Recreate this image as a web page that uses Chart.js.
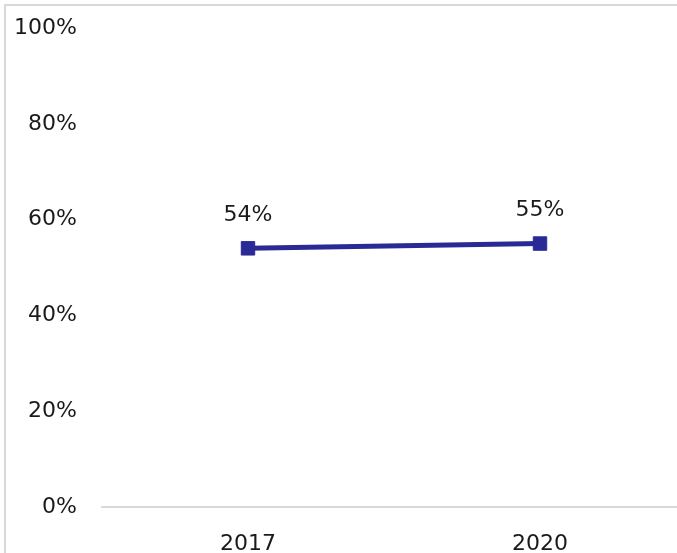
<!DOCTYPE html>
<html>
<head>
<meta charset="utf-8">
<script src="https://cdn.jsdelivr.net/npm/chart.js@4/dist/chart.umd.min.js"></script>
<style>
  html, body { margin: 0; padding: 0; background: #fff; overflow: hidden; }
  #wrap { position: absolute; left: 0; top: 0; width: 700px; height: 553px; }
  #frame { position: absolute; left: 4px; top: 4px; width: 900px; height: 900px; border-left: 2px solid #d9d9d9; border-top: 2px solid #d9d9d9; pointer-events: none; }
</style>
</head>
<body>
<div id="wrap"><canvas id="c" width="700" height="553"></canvas></div>
<div id="frame"></div>
<script>
const categories = ["2017", "2020"];
const values = [54, 55];
const yTicks = [0, 20, 40, 60, 80, 100];

const FONT = "'DejaVu Sans', sans-serif";
const lineColor = "#2a2a96";

const labelPlugin = {
  id: 'pointLabels',
  afterDatasetsDraw(chart) {
    const ctx = chart.ctx;
    const meta = chart.getDatasetMeta(0);
    ctx.save();
    ctx.font = "22px " + FONT;
    ctx.fillStyle = "#1a1a1a";
    ctx.textAlign = "center";
    ctx.textBaseline = "middle";
    meta.data.forEach((pt, i) => {
      ctx.fillText(values[i] + "%", pt.x, pt.y - 33);
    });
    ctx.restore();
  }
};

new Chart(document.getElementById('c'), {
  type: 'line',
  data: {
    labels: categories,
    datasets: [{
      data: values,
      borderColor: lineColor,
      backgroundColor: lineColor,
      borderWidth: 5,
      pointStyle: 'rect',
      pointRadius: 9.5,
      pointHoverRadius: 9.5,
      pointBorderWidth: 1,
      pointBorderColor: lineColor,
      pointBackgroundColor: lineColor,
      tension: 0,
      fill: false
    }]
  },
  options: {
    responsive: false,
    animation: false,
    devicePixelRatio: 1,
    layout: { padding: { top: 28, right: 14, bottom: 0, left: 0 } },
    plugins: { legend: { display: false }, tooltip: { enabled: false } },
    scales: {
      x: {
        offset: true,
        grid: { display: false, drawTicks: false },
        border: { display: true, color: '#d9d9d9', width: 2 },
        ticks: { color: '#1a1a1a', font: { family: FONT, size: 22 }, padding: 24, maxRotation: 0 },
        afterFit(scale) { scale.height = 46; scale.paddingLeft = 0; scale.paddingRight = 0; }
      },
      y: {
        min: 0, max: 100,
        afterBuildTicks(scale) { scale.ticks = yTicks.map(v => ({ value: v })); },
        grid: { display: false, drawTicks: false },
        border: { display: false },
        ticks: { color: '#1a1a1a', font: { family: FONT, size: 22 }, padding: 25, callback: v => v + '%' },
        afterFit(scale) { scale.width = 102; scale.paddingTop = 0; scale.paddingBottom = 0; }
      }
    }
  },
  plugins: [labelPlugin]
});
</script>
</body>
</html>
